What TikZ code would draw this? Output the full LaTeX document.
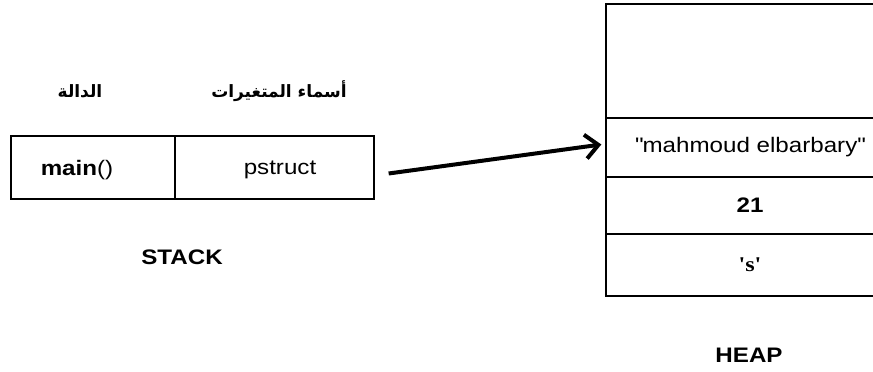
\documentclass[tikz,border=0pt]{standalone}
\usepackage{fontspec}
\setmainfont{Liberation Sans}[FakeStretch=1.15]
\newfontfamily\arabicfont[Script=Arabic]{DejaVu Sans}
\newfontfamily\seriffont{Liberation Serif}[FakeStretch=1.15]
\TeXXeTstate=1
\usetikzlibrary{arrows.meta}

\begin{document}
\begin{tikzpicture}[x=1pt,y=1pt,>={Straight Barb[length=13pt,width=24pt]},
  cell/.style={draw,line width=1.3pt,inner sep=0pt,font=\fontsize{21}{24}\selectfont},
  heading/.style={font=\arabicfont\bfseries\fontsize{17}{20}\selectfont},
  caption/.style={font=\bfseries\fontsize{21}{24}\selectfont}]
\useasboundingbox (0,0) rectangle (873,372);
\clip (0,0) rectangle (873,372);
% stack
\node[heading] (fnhead) at (80,281) {\beginR الدالة\endR};
\node[heading] (varhead) at (279,281) {\beginR أسماء المتغيرات\endR};
\node[cell,minimum width=164,minimum height=63] (fn) at (93,204.5) {};
\node[cell,minimum width=199,minimum height=63] (var) at (274.5,204.5) {};
\node[font=\fontsize{21}{24}\selectfont] (fntext) at (77,202) {\textbf{main}()};
\node[font=\fontsize{21}{24}\selectfont] (vartext) at (280,202) {pstruct};
\node[caption] (stack) at (182,115) {STACK};
% heap
\node[cell,minimum width=288,minimum height=114] (free) at (750,311) {};
\node[cell,minimum width=288,minimum height=59] (name) at (750,224.5) {\raisebox{-3pt}{\textquotedbl mahmoud elbarbary\textquotedbl}};
\node[cell,minimum width=288,minimum height=57] (age) at (750,166.5) {\textbf{21}};
\node[cell,minimum width=288,minimum height=62] (grade) at (750,107) {\raisebox{-3pt}{\seriffont\textbf{'s'}}};
\node[caption] (heap) at (749,17) {HEAP};
\draw[->,line width=4pt] ([xshift=14pt,yshift=-6pt]var.east) -- ([xshift=-4pt,yshift=3pt]name.west);
\end{tikzpicture}
\end{document}
